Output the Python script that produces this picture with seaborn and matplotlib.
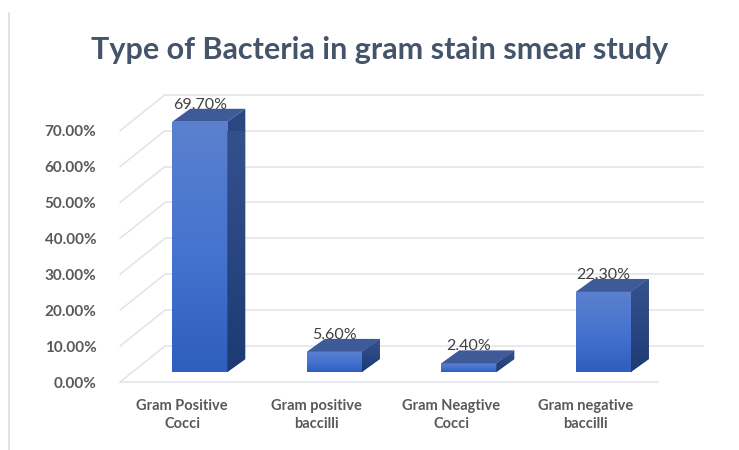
import numpy as np
import pandas as pd
import matplotlib
matplotlib.use("Agg")
import matplotlib.pyplot as plt
import seaborn as sns
from matplotlib.transforms import IdentityTransform, ScaledTranslation
from matplotlib.patches import Polygon
from matplotlib.lines import Line2D
from matplotlib.colors import LinearSegmentedColormap

# Data
categories = ["Gram Positive\nCocci", "Gram positive\nbaccilli",
              "Gram Neagtive\nCocci", "Gram negative\nbaccilli"]
percentages = [69.70, 5.60, 2.40, 22.30]
y_ticks = [0, 10, 20, 30, 40, 50, 60, 70]
y_tick_labels = ["0.00%", "10.00%", "20.00%", "30.00%",
                 "40.00%", "50.00%", "60.00%", "70.00%"]
title = "Type of Bacteria in gram stain smear study"

sns.set_theme(style="white")
plt.rcParams["font.family"] = ["Lato", "DejaVu Sans"]

W, H, DPI = 739, 450, 100
fig = plt.figure(figsize=(W / DPI, H / DPI), dpi=DPI)
fig.patch.set_facecolor("white")

# front plane of the 3-D box: x from -0.5..3.5, y 0..70
ax = fig.add_axes([120 / W, 68 / H, 538 / W, 251.3 / H])
df = pd.DataFrame({"category": categories, "pct": percentages})
sns.barplot(data=df, x="category", y="pct", ax=ax, width=0.41,
            color="#3F6CC8", saturation=1, zorder=3)
ax.set_xlim(-0.5, 3.5)
ax.set_ylim(0, 70)
ax.set_autoscale_on(False)
for s in ax.spines.values():
    s.set_visible(False)
ax.patch.set_alpha(0)
ax.grid(False)
ax.set_xlabel("")
ax.set_ylabel("")

ax.set_yticks(y_ticks)
ax.set_yticklabels(y_tick_labels, fontweight="bold")
ax.tick_params(axis="y", length=0, pad=17, labelsize=11, labelcolor="#595959")
ax.set_xticks(range(len(categories)))
ax.set_xticklabels(categories, fontweight="bold", linespacing=1.4)
ax.tick_params(axis="x", length=0, pad=12, labelsize=10.5, labelcolor="#595959")
# nudge category labels slightly left, onto the front edge of the floor
nudge = ScaledTranslation(-5 / DPI, 0, fig.dpi_scale_trans)
for lbl in ax.get_xticklabels():
    lbl.set_transform(lbl.get_transform() + nudge)

ident = IdentityTransform()
to_px = ax.transData.transform

# depth offsets (pixels): back wall, bar row, bar thickness
WALL = np.array([45.0, 36.0])
ROW = np.array([12.5, 10.0])
DEPTH = np.array([18.0, 13.0])
grid_color = "#E1E3EA"

# back wall, side wall and floor edge
for t in y_ticks:
    a = to_px((-0.5, t))
    b = to_px((3.5, t))
    ax.add_line(Line2D([a[0] + WALL[0], b[0] + WALL[0]], [a[1] + WALL[1], b[1] + WALL[1]],
                       transform=ident, color=grid_color, lw=1.1, zorder=1, clip_on=False))
    ax.add_line(Line2D([a[0], a[0] + WALL[0]], [a[1], a[1] + WALL[1]],
                       transform=ident, color=grid_color, lw=1.1, zorder=1, clip_on=False))
a = to_px((-0.5, 0))
b = to_px((3.5, 0))
ax.add_line(Line2D([a[0], b[0]], [a[1], b[1]], transform=ident, color=grid_color,
                   lw=1.1, zorder=1, clip_on=False))

front_cmap = LinearSegmentedColormap.from_list("front", ["#2E5EBE", "#4674D0", "#5B80CE"])
side_cmap = LinearSegmentedColormap.from_list("side", ["#1E3A74", "#2A4784", "#36528F"])
grad = np.linspace(0, 1, 256).reshape(-1, 1)

row_shift = ax.transData + ScaledTranslation(ROW[0] / DPI, ROW[1] / DPI, fig.dpi_scale_trans)

for bar, val in zip(ax.patches, percentages):
    x0 = bar.get_x()
    x1 = x0 + bar.get_width()
    bar.set_transform(row_shift)
    bar.set_edgecolor("none")
    bar.set_clip_on(False)
    im = ax.imshow(grad, extent=[x0, x1, 0, val], origin="lower", aspect="auto",
                   cmap=front_cmap, transform=row_shift, zorder=3.5, interpolation="bilinear")
    im.set_clip_path(bar)

    p0 = to_px((x0, 0)) + ROW
    p1 = to_px((x1, val)) + ROW
    side = Polygon([(p1[0], p0[1]), (p1[0], p1[1]),
                    (p1[0] + DEPTH[0], p1[1] + DEPTH[1]), (p1[0] + DEPTH[0], p0[1] + DEPTH[1])],
                   closed=True, transform=ident, facecolor="#2A4784", edgecolor="none",
                   zorder=3, clip_on=False)
    ax.add_patch(side)
    sim = ax.imshow(grad, extent=[p1[0], p1[0] + DEPTH[0], p0[1], p1[1] + DEPTH[1]],
                    origin="lower", aspect="auto", cmap=side_cmap, transform=ident,
                    zorder=3.5, interpolation="bilinear")
    sim.set_clip_path(side)
    top = Polygon([(p0[0], p1[1]), (p1[0], p1[1]),
                   (p1[0] + DEPTH[0], p1[1] + DEPTH[1]), (p0[0] + DEPTH[0], p1[1] + DEPTH[1])],
                  closed=True, transform=ident, facecolor="#3E5A98", edgecolor="none",
                  zorder=4, clip_on=False)
    ax.add_patch(top)

    cx = (p0[0] + p1[0]) / 2
    ax.text(cx, p1[1] + 17, f"{val:.2f}%", transform=ident, ha="center", va="center",
            fontsize=11.5, color="#404040", zorder=6)

ax.set_xlim(-0.5, 3.5)
ax.set_ylim(0, 70)

fig.text(380 / W, 1 - 50 / H, title, ha="center", va="center", fontsize=22,
         fontweight="bold", color="#44546A")

fig.add_artist(Line2D([9 / W, 9 / W], [0, 1 - 13 / H], transform=fig.transFigure,
                      color="#DADDE4", lw=1.2))

fig.savefig("out.png", dpi=DPI)
